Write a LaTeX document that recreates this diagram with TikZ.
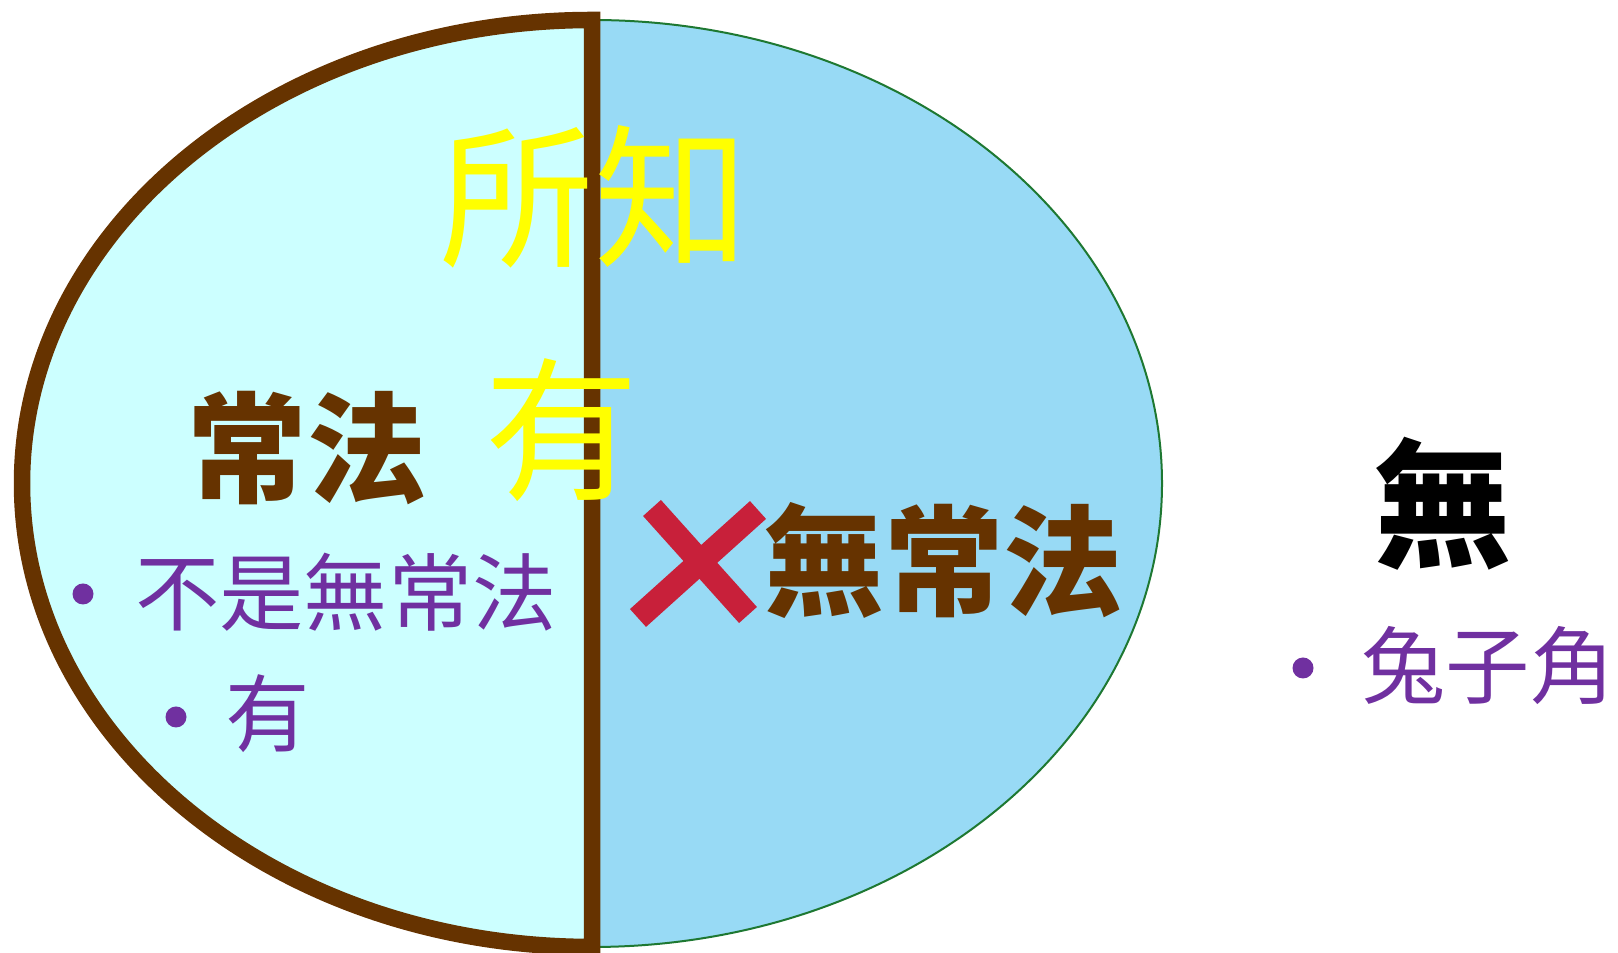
\documentclass[tikz,border=0pt]{standalone}
\usepackage{fontspec}
\newfontfamily\cjk{Noto Sans CJK TC}
\definecolor{bluefill}{RGB}{152,218,245}
\definecolor{cyanfill}{RGB}{204,255,255}
\definecolor{greenline}{RGB}{30,120,50}
\definecolor{brownc}{RGB}{102,51,0}
\definecolor{yelc}{RGB}{255,255,0}
\definecolor{purc}{RGB}{112,48,160}
\definecolor{redx}{RGB}{200,32,58}
\tikzset{
  txt/.style={inner sep=0pt, anchor=center, font=\cjk},
  yeltxt/.style={txt, text=yelc, font=\cjk\fontsize{44pt}{44pt}\selectfont},
  browntxt/.style={txt, text=brownc, font=\cjk\bfseries\fontsize{34pt}{34pt}\selectfont},
  blacktxt/.style={txt, text=black, font=\cjk\bfseries\fontsize{39pt}{39pt}\selectfont},
  purtxt/.style={txt, text=purc, font=\cjk\fontsize{24pt}{24pt}\selectfont},
  bulletdot/.style={circle, fill=purc, inner sep=0pt, minimum size=2.1mm},
  xstroke/.style={draw=redx, line width=2.4mm, line cap=butt}
}
\begin{document}
\begin{tikzpicture}[x=0.1mm,y=-0.1mm]
\useasboundingbox (0,0) rectangle (1618,953);
% right (blue) ellipse
\fill[bluefill] (592,483.5) ellipse [x radius=570, y radius=463.5];
\draw[greenline, line width=0.2mm] (592,483.5) ellipse [x radius=570, y radius=463.5];
% left half
\filldraw[fill=cyanfill, draw=brownc, line width=1.65mm, line join=miter]
  (592,20) arc[start angle=270, end angle=90, x radius=570, y radius=463.5] -- cycle;
% texts
\node[yeltxt] (suozhi) at (594,197) {所知};
\node[yeltxt] (you) at (562,430) {有};
\node[browntxt] (changfa) at (307,448) {常法};
\node[browntxt] (wuchangfa) at (944,561) {無常法};
\node[blacktxt] (wu) at (1443,504) {無};
\node[bulletdot] (b1) at (83,594) {};
\node[purtxt] (t1) at (346,592) {不是無常法};
\node[bulletdot] (b2) at (176,717) {};
\node[purtxt] (t2) at (268,714) {有};
\node[bulletdot] (b3) at (1303,668) {};
\node[purtxt] (t3) at (1488,666) {兔子角};
% red cross
\coordinate (x1a) at (652,508);
\coordinate (x1b) at (748,615);
\coordinate (x2a) at (758,510);
\coordinate (x2b) at (638,618);
\draw[xstroke] (x1a) -- (x1b);
\draw[xstroke] (x2a) -- (x2b);
\end{tikzpicture}
\end{document}
